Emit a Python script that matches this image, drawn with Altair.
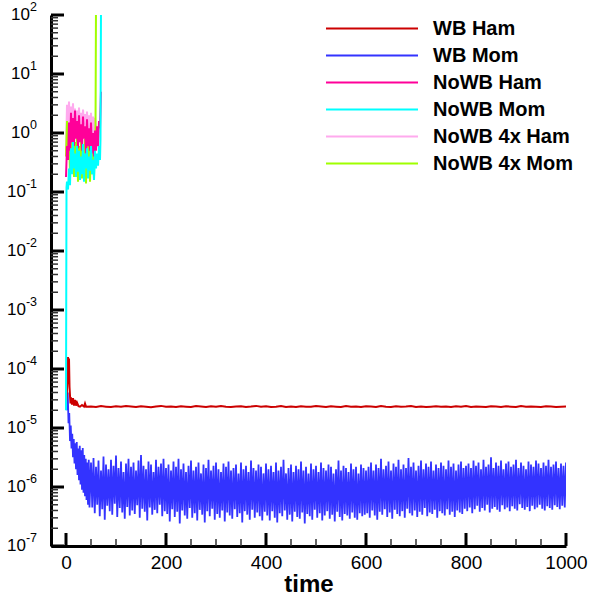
import altair as alt
import pandas as pd

# ---------------- data ----------------
series_names = ["WB Ham", "WB Mom", "NoWB Ham", "NoWB Mom", "NoWB 4x Ham", "NoWB 4x Mom"]
series_colors = ["#cc0000", "#3333ff", "#ff0099", "#00ffff", "#ffaaee", "#a0ff00"]

# WB Ham (units of 1e-5): start-up transient then flat level
wb_ham_t0 = [0, 3, 4, 5, 6, 7, 8, 9, 10, 12, 14, 16, 18, 20, 22, 25, 28, 32, 36, 38, 40]
wb_ham_v0 = [2.5, 6, 16, 12, 15, 5, 3.5, 2.6, 3.3, 2.5, 3.2, 2.4, 3.0, 2.4, 2.7, 2.35, 2.3, 2.45, 2.3, 2.6, 2.3]
wb_ham_flat = [
    2.32, 2.28, 2.35, 2.30, 2.26, 2.33, 2.29, 2.36, 2.31, 2.27,
    2.34, 2.30, 2.25, 2.32, 2.37, 2.29, 2.31, 2.26, 2.33, 2.30,
    2.28, 2.35, 2.31, 2.27, 2.33, 2.29, 2.36, 2.30, 2.26, 2.32,
    2.34, 2.28, 2.31, 2.37, 2.29, 2.33, 2.27, 2.30, 2.35, 2.28,
    2.32, 2.26, 2.34, 2.30, 2.29, 2.36, 2.31, 2.27, 2.33, 2.30,
    2.28, 2.35, 2.29, 2.32, 2.26, 2.34, 2.31, 2.28, 2.36, 2.30,
    2.27, 2.33, 2.29, 2.31, 2.35, 2.28, 2.32, 2.26, 2.30, 2.34,
    2.29, 2.31, 2.27, 2.33, 2.30, 2.36, 2.28, 2.32, 2.29, 2.26,
    2.34, 2.31, 2.28, 2.33, 2.30, 2.27, 2.35, 2.29, 2.32, 2.30,
    2.28, 2.34, 2.31, 2.27, 2.30, 2.32,
]  # t = 50, 60, ..., 1000

# WB Mom: early decay (time, value)
wb_mom_t0 = [1, 2, 3.5, 5, 6.5, 8, 9.5, 11, 12.5, 14, 15.5, 17, 18.5, 20, 21.5, 23,
             24.5, 26, 27.5, 29, 30.5, 32, 33.5, 35, 36.5, 38, 39.5, 41, 42.5, 44, 45.5, 47]
wb_mom_v0 = [9.5e-5, 2.0e-5, 4e-5, 1.2e-5, 1.8e-5, 6e-6, 1.1e-5, 4.5e-6, 8e-6, 3.2e-6,
             6.5e-6, 2.5e-6, 5.5e-6, 2.0e-6, 5.8e-6, 1.6e-6, 4.5e-6, 1.3e-6, 5e-6, 1.1e-6,
             4.2e-6, 9e-7, 4.6e-6, 8e-7, 3.5e-6, 7e-7, 3.0e-6, 6e-7, 2.6e-6, 5e-7, 2.9e-6, 4.5e-7]
# WB Mom noisy band: spike tops (units 1e-6, t = 50, 55, ..., 1000)
wb_mom_peaks = [
    2.6, 3.1, 2.2, 2.8, 1.9, 3.3, 2.4, 2.0, 2.9, 2.3,
    3.4, 2.1, 2.7, 1.8, 2.5, 3.0, 2.2, 2.6, 1.9, 2.8,
    3.5, 2.3, 2.0, 2.7, 2.4, 1.8, 2.9, 2.2, 2.5, 3.0,
    2.1,
    2.4, 1.9, 2.7, 2.2, 3.0, 2.0, 2.5, 1.8, 2.3, 2.8,
    1.9, 2.2, 2.6, 1.7, 2.4, 2.1, 2.9, 1.9, 2.3, 2.6,
    2.0, 1.8, 2.5, 2.2, 2.7, 1.9, 2.1, 2.4, 1.7, 2.6,
    2.0, 2.3, 1.8, 2.8, 2.1, 1.9, 2.4, 2.2, 1.7, 2.5,
    2.0, 2.3, 1.8, 2.6, 1.9, 2.2, 2.9, 1.7, 2.1, 2.4,
    1.8, 2.3, 2.0, 2.7, 1.9, 2.2, 1.7, 2.5, 2.0, 2.3,
    1.8, 2.6, 2.1, 1.9, 2.4, 2.2, 1.7, 2.0, 2.8, 1.9,
    2.3, 2.1, 1.8, 2.5, 2.0, 2.2, 1.7, 2.4, 2.1, 1.9,
    2.2, 2.6, 1.9, 2.4, 2.1, 3.0, 2.0, 2.3, 2.7, 1.9,
    2.5, 2.2, 2.9, 2.0, 2.4, 2.1, 3.1, 2.2, 2.6, 1.9,
    2.3, 2.8, 2.0, 2.5, 2.2, 2.7, 1.9, 2.4, 2.1, 2.6,
    2.3, 2.0, 2.8, 2.2, 2.5, 1.9, 2.4, 2.7, 2.1, 2.3,
    2.5, 2.1, 2.8, 2.3, 2.6, 2.0, 2.9, 2.2, 2.4, 3.2,
    2.1, 2.6, 2.3, 2.8, 2.0, 2.5, 2.7, 2.2, 2.4, 2.9,
    2.1, 2.6, 2.3, 2.0, 2.7, 2.4, 2.2, 2.8, 2.5, 2.1,
    2.6, 2.3, 2.9, 2.2, 2.4, 2.7, 2.1, 2.5, 2.3, 2.6,
]
# WB Mom noisy band: dips (units 1e-7, t = 52.5, 57.5, ..., 997.5)
wb_mom_dips = [
    4.5, 3.6, 5.0, 3.2, 4.2, 2.8, 4.8, 3.9, 3.4, 5.2,
    3.1, 4.4, 3.7, 2.9, 4.6, 3.3, 4.0, 3.5, 4.9, 3.0,
    4.3, 3.8, 2.7, 4.5, 3.4, 4.1, 3.6, 5.0, 3.2, 3.9,
    3.5, 2.6, 4.2, 3.1, 3.8, 2.4, 4.0, 3.3, 2.9, 4.4,
    3.0, 3.6, 2.7, 4.1, 3.4, 2.5, 3.9, 3.2, 4.3, 2.8,
    3.5, 3.0, 4.0, 2.6, 3.7, 3.3, 2.9, 4.2, 3.1, 3.6,
    2.5, 3.9, 3.4, 2.8, 4.1, 3.0, 3.7, 3.2, 2.7, 3.8,
    3.3, 2.7, 3.9, 3.0, 2.5, 3.6, 3.2, 4.0, 2.8, 3.4,
    2.6, 3.8, 3.1, 2.9, 3.7, 2.4, 3.5, 3.2, 2.8, 4.1,
    3.0, 3.6, 2.7, 3.3, 3.9, 2.9, 3.4, 2.6, 3.8, 3.1,
    2.7, 3.5, 3.3, 2.9, 3.7, 3.0, 2.8, 3.6, 3.2, 3.4,
    3.6, 3.0, 4.0, 3.3, 2.8, 3.8, 3.4, 4.2, 3.1, 3.7,
    2.9, 4.1, 3.5, 3.2, 3.9, 3.0, 4.3, 3.6, 3.3, 4.0,
    3.1, 3.8, 3.4, 4.4, 3.2, 3.7, 3.5, 4.1, 3.0, 3.9,
    3.6, 3.3, 4.2, 3.4, 3.8, 3.1, 4.0, 3.7, 3.5, 4.3,
    3.9, 4.5, 3.6, 4.2, 4.8, 3.8, 4.4, 4.0, 5.0, 3.7,
    4.3, 4.6, 4.1, 3.8, 4.9, 4.2, 4.5, 3.9, 4.7, 4.3,
    4.0, 5.1, 4.4, 4.1, 4.6, 3.9, 4.8, 4.2, 4.5, 5.0,
    4.3, 4.0, 4.7, 4.4, 4.1, 4.9, 4.6, 4.2, 4.8, 4.5,
]

# unstable runs (time, value)
nowb_mom_t = [0, 1] + list(range(2, 69, 2)) + [69, 70]
nowb_mom_v = [2e-5, 0.12, 0.15, 0.11, 0.25, 0.13, 0.55, 0.2, 0.7, 0.25, 0.45, 0.18, 0.6, 0.22,
              0.5, 0.16, 0.4, 0.2, 0.65, 0.15, 0.45, 0.25, 0.55, 0.17, 0.4, 0.23, 0.6, 0.2,
              0.35, 0.16, 0.5, 0.25, 0.45, 0.28, 0.6, 0.35, 0.8, 150]
nowb_ham_t = list(range(0, 71, 2))
nowb_ham_v = [0.18, 0.6, 0.35, 1.5, 0.5, 2.2, 0.7, 1.8, 0.6, 2.4, 0.8, 1.6, 0.55, 2.0, 0.7, 1.4,
              0.5, 1.9, 0.8, 1.3, 0.45, 1.7, 0.6, 1.2, 0.5, 1.5, 0.45, 1.0, 0.4, 1.1, 0.5, 1.3,
              0.6, 1.6, 1.2, 5.0]
nowb4_ham_t = list(range(0, 61, 2))
nowb4_ham_v = [0.5, 3.0, 1.2, 3.4, 1.0, 2.8, 1.5, 3.2, 1.1, 2.6, 1.3, 2.4, 0.9, 2.7, 1.2, 2.2,
               1.0, 2.5, 1.4, 2.1, 0.9, 2.3, 1.1, 2.0, 1.0, 2.2, 0.9, 1.9, 1.0, 1.8, 1.2]
nowb4_mom_t = list(range(0, 59, 2)) + [59, 60]
nowb4_mom_v = [0.4, 1.6, 0.5, 1.2, 0.2, 0.9, 0.25, 0.8, 0.18, 0.7, 0.22, 0.9, 0.15, 0.6, 0.2,
               0.75, 0.17, 0.65, 0.21, 0.8, 0.14, 0.6, 0.2, 0.7, 0.15, 0.55, 0.2, 0.6, 0.18,
               0.7, 1.0, 150]

# axis tick values
x_major = [0, 200, 400, 600, 800, 1000]
x_minor = [v for v in range(50, 1000, 50) if v % 200 != 0]
y_exps = list(range(-7, 3))
y_minor = [m * 10.0 ** e for e in range(-7, 2) for m in range(2, 10)]

# ---------------- tables ----------------
def table(name, ts, vs):
    return pd.DataFrame({"series": name, "t": ts, "value": vs, "idx": range(len(ts))})

wb_ham = table("WB Ham", wb_ham_t0 + [50 + 10 * i for i in range(len(wb_ham_flat))],
               [v * 1e-5 for v in wb_ham_v0 + wb_ham_flat])
band_t, band_v = [], []
for i, p in enumerate(wb_mom_peaks):
    band_t.append(50 + 5 * i)
    band_v.append(p * 1e-6)
    if i < len(wb_mom_dips):
        band_t.append(52.5 + 5 * i)
        band_v.append(wb_mom_dips[i] * 1e-7)
wb_mom = table("WB Mom", wb_mom_t0 + band_t, wb_mom_v0 + band_v)
nowb_ham = table("NoWB Ham", nowb_ham_t, nowb_ham_v)
nowb_mom = table("NoWB Mom", nowb_mom_t, nowb_mom_v)
nowb4_ham = table("NoWB 4x Ham", nowb4_ham_t, nowb4_ham_v)
nowb4_mom = table("NoWB 4x Mom", nowb4_mom_t, nowb4_mom_v)

W, H = 515, 531
FONT = "Liberation Sans"

xscale = alt.Scale(domain=[-30, 1000], nice=False, zero=False)
yscale = alt.Scale(type="log", domain=[1e-7, 100], nice=False)
cscale = alt.Scale(domain=series_names, range=series_colors)

xaxis = alt.Axis(values=x_major, format="d", ticks=False, grid=False, domainColor="black",
                 domainWidth=3, labelFont=FONT, labelFontSize=19, labelColor="black",
                 labelPadding=7, labelFlush=False, title="time", titleFont=FONT,
                 titleFontSize=24, titleFontWeight="bold", titleColor="black", titlePadding=0)
yaxis = alt.Axis(labels=False, ticks=False, grid=False, domainColor="black", domainWidth=3,
                 title=None)
legend = alt.Legend(title=None, orient="none", legendX=274, legendY=4, symbolType="stroke",
                    symbolSize=8464, symbolStrokeWidth=2, labelFont=FONT, labelFontSize=20,
                    labelFontWeight="bold", labelColor="black", labelOffset=14,
                    clipHeight=19, rowPadding=6)


def line(df, width):
    return alt.Chart(df).mark_line(clip=True, strokeWidth=width).encode(
        x=alt.X("t:Q", scale=xscale, axis=xaxis),
        y=alt.Y("value:Q", scale=yscale, axis=yaxis),
        color=alt.Color("series:N", scale=cscale, legend=legend),
        order="idx:Q",
    )


lines = [line(wb_mom, 1.8), line(wb_ham, 2), line(nowb4_ham, 2), line(nowb4_mom, 2),
         line(nowb_ham, 2), line(nowb_mom, 2)]

# inward ticks
ymaj = alt.Chart(pd.DataFrame({"v": [10.0 ** e for e in y_exps]})).mark_rule(
    color="black", strokeWidth=3).encode(
    y=alt.Y("v:Q", scale=yscale, axis=yaxis), x=alt.value(0), x2=alt.value(13))
ymin = alt.Chart(pd.DataFrame({"v": y_minor})).mark_rule(
    color="#333333", strokeWidth=1.5).encode(
    y=alt.Y("v:Q", scale=yscale, axis=yaxis), x=alt.value(0), x2=alt.value(7))
xmaj = alt.Chart(pd.DataFrame({"v": x_major})).mark_rule(
    color="black", strokeWidth=3).encode(
    x=alt.X("v:Q", scale=xscale, axis=xaxis), y=alt.value(H), y2=alt.value(H - 13))
xmin = alt.Chart(pd.DataFrame({"v": x_minor})).mark_rule(
    color="#333333", strokeWidth=1.5).encode(
    x=alt.X("v:Q", scale=xscale, axis=xaxis), y=alt.value(H), y2=alt.value(H - 7))

# y labels: "10" with a superscript exponent
lab = pd.DataFrame({"e": y_exps, "v": [10.0 ** e for e in y_exps], "es": [str(e) for e in y_exps]})
base_pos = alt.Chart(lab).transform_filter("datum.e >= 0").mark_text(
    align="right", baseline="middle", font=FONT, fontSize=17, color="black").encode(
    y=alt.Y("v:Q", scale=yscale, axis=yaxis), x=alt.value(-21), text=alt.value("10"))
base_neg = alt.Chart(lab).transform_filter("datum.e < 0").mark_text(
    align="right", baseline="middle", font=FONT, fontSize=17, color="black").encode(
    y=alt.Y("v:Q", scale=yscale, axis=yaxis), x=alt.value(-25), text=alt.value("10"))
expo = alt.Chart(lab).mark_text(
    align="right", baseline="middle", dy=-8, font=FONT, fontSize=12.5, color="black").encode(
    y=alt.Y("v:Q", scale=yscale, axis=yaxis), x=alt.value(-14), text="es:N")

chart = alt.layer(*lines, ymaj, ymin, xmaj, xmin, base_pos, base_neg, expo).properties(
    width=W, height=H,
    padding={"left": 51, "top": 15, "right": 23, "bottom": 51},
    autosize=alt.AutoSizeParams(type="none"),
    background="white",
).configure_view(stroke=None)

chart.save("out.html", embed_options={"renderer": "svg", "actions": False})
